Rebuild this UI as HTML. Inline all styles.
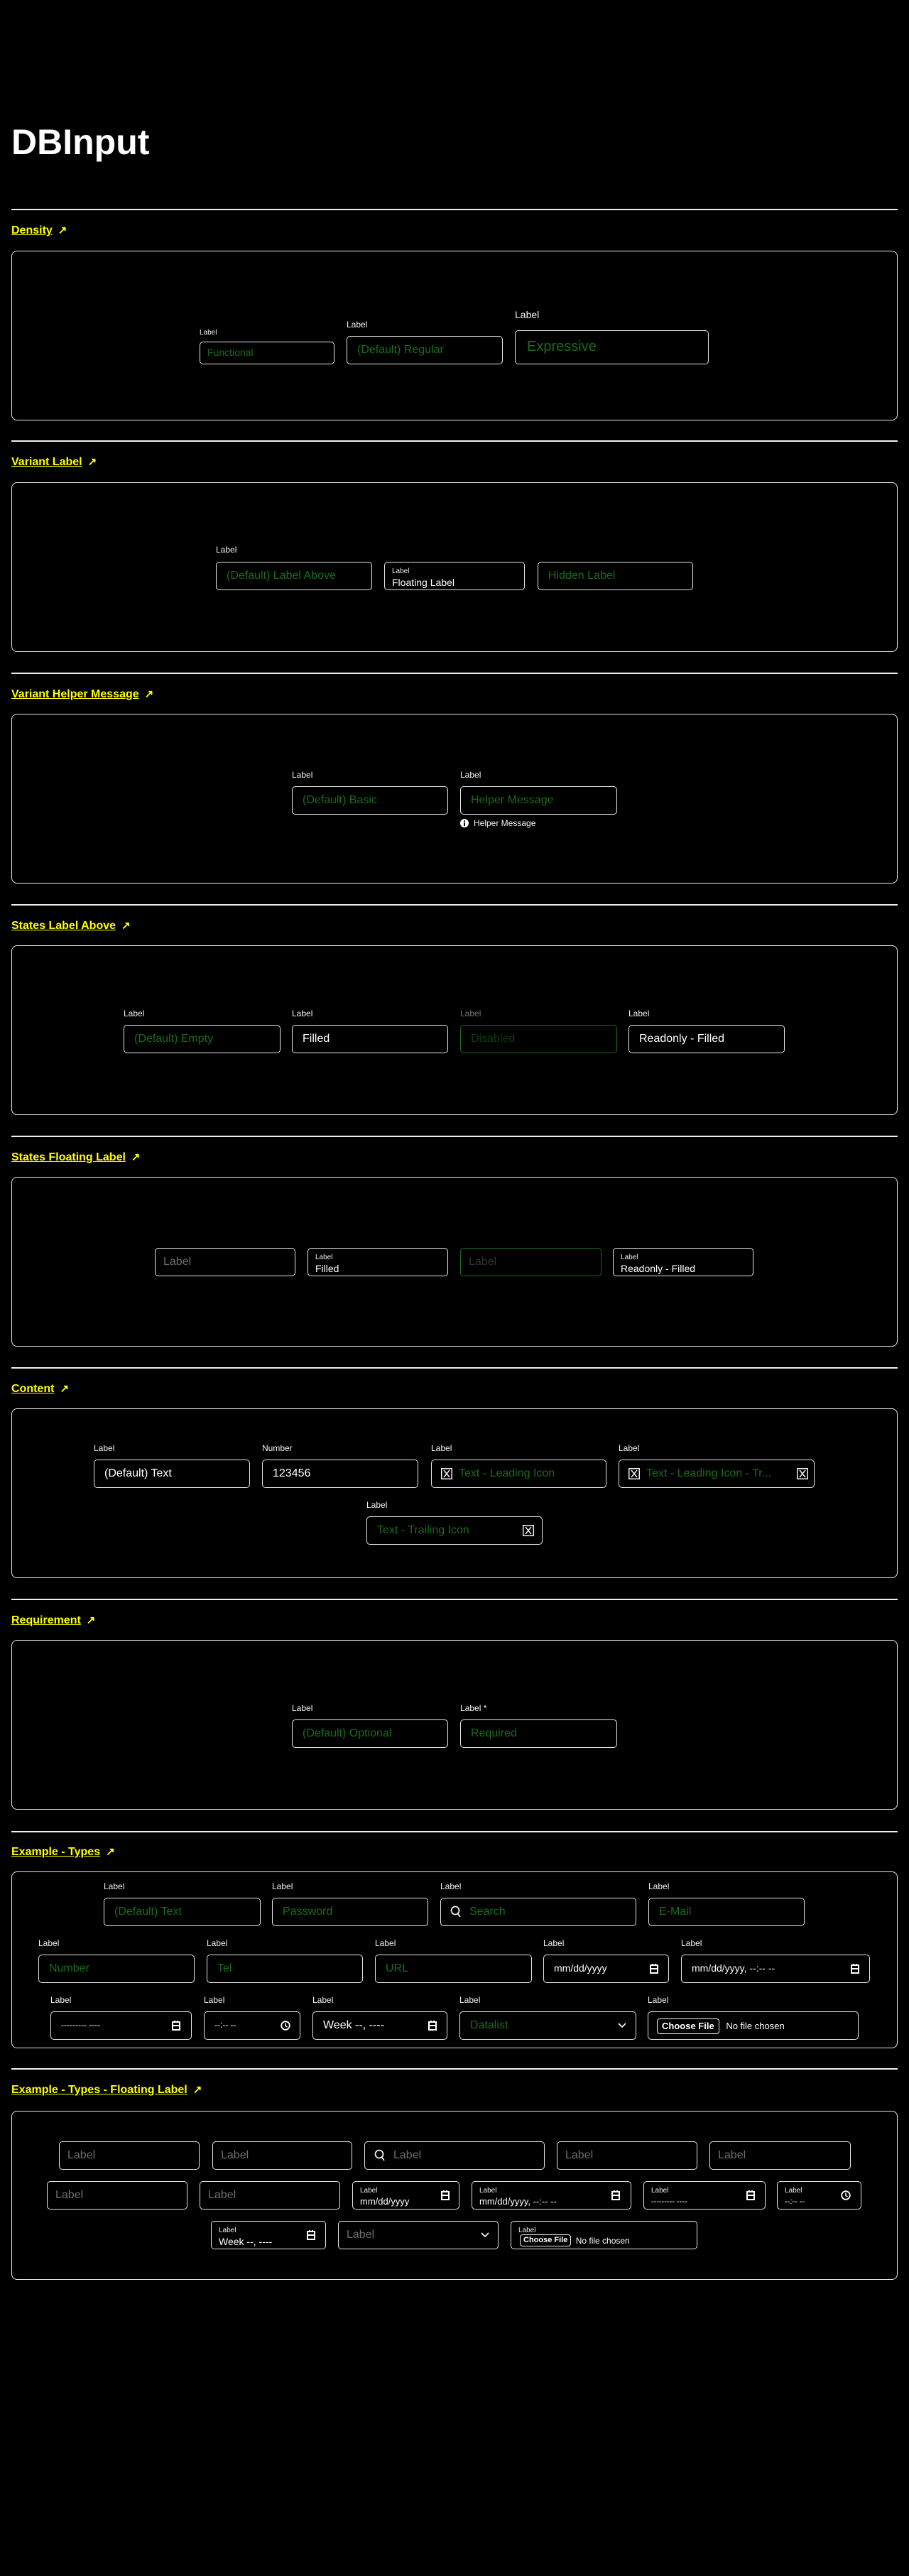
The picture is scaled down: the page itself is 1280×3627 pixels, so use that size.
<!DOCTYPE html>
<html><head><meta charset="utf-8">
<style>
*{margin:0;padding:0;box-sizing:border-box}
html,body{width:1280px;height:3627px;background:#000;overflow:hidden}
body{position:relative;font-family:"Liberation Sans",sans-serif;color:#fff}
.t{position:absolute;left:16px;top:170px;font-size:50px;font-weight:bold;line-height:60px;color:#fff}
.hr{position:absolute;left:16px;width:1248px;height:2px;background:#f0f0f0}
.h{position:absolute;left:16px;font-size:16px;font-weight:bold;line-height:20px;color:#ff0;white-space:nowrap}
.h u{text-decoration:underline}
.h span{display:inline-block;margin-left:8px;font-size:15px}
.box{position:absolute;left:16px;width:1248px;border:1.5px solid #e8e8e8;border-radius:8px}
.l{position:absolute;font-size:12px;line-height:14px;color:#f4f4f4;white-space:nowrap}
.i{position:absolute;height:40px;border:1.5px solid #e6e6e6;border-radius:5px;font-size:16px;line-height:37px;color:#1b6b1b;padding-left:14px;white-space:nowrap;overflow:hidden}
.w{color:#fff}
.g{color:#6e6e6e}
.d{border-color:#1b6b1b;color:#0f3d0f}
.fl{position:absolute;left:10px;top:7px;font-size:10px;line-height:11px;color:#eee}
.fv{position:absolute;left:10px;top:20px;font-size:14px;line-height:16px;color:#fff}
.ic{position:absolute;top:50%;transform:translateY(-50%)}
.btn{display:inline-block;border:1.5px solid #eee;border-radius:4px;font-size:13px;font-weight:bold;color:#fff;line-height:20px;padding:0 6px;vertical-align:middle}
</style></head><body>
<div class="t">DBInput</div>

<!-- Section 1 -->
<div class="hr" style="top:294px"></div>
<div class="h" style="top:315px"><u>Density</u><span>↗</span></div>
<div class="box" style="top:353px;height:239px"></div>
<div class="l" style="left:281px;top:462px;font-size:10px">Label</div>
<div class="i" style="left:281px;top:481px;width:190px;height:32px;font-size:14px;line-height:29px;padding-left:10px">Functional</div>
<div class="l" style="left:488px;top:450px">Label</div>
<div class="i" style="left:488px;top:473px;width:220px">(Default) Regular</div>
<div class="l" style="left:725px;top:435px;font-size:14px;line-height:16px">Label</div>
<div class="i" style="left:725px;top:465px;width:273px;height:48px;font-size:20px;line-height:44px;padding-left:16px">Expressive</div>

<!-- Section 2 -->
<div class="hr" style="top:620px"></div>
<div class="h" style="top:641px"><u>Variant Label</u><span>↗</span></div>
<div class="box" style="top:679px;height:239px"></div>
<div class="l" style="left:304px;top:767px">Label</div>
<div class="i" style="left:304px;top:791px;width:220px">(Default) Label Above</div>
<div class="i" style="left:541px;top:791px;width:198px"><div class="fl">Label</div><div class="fv">Floating Label</div></div>
<div class="i" style="left:757px;top:791px;width:219px">Hidden Label</div>

<!-- Section 3 -->
<div class="hr" style="top:947px"></div>
<div class="h" style="top:968px"><u>Variant Helper Message</u><span>↗</span></div>
<div class="box" style="top:1005px;height:239px"></div>
<div class="l" style="left:411px;top:1084px">Label</div>
<div class="i" style="left:411px;top:1107px;width:220px">(Default) Basic</div>
<div class="l" style="left:648px;top:1084px">Label</div>
<div class="i" style="left:648px;top:1107px;width:221px">Helper Message</div>
<svg style="position:absolute;left:648px;top:1153px" width="12" height="12" viewBox="0 0 12 12"><circle cx="6" cy="6" r="6" fill="#fff"/><rect x="5" y="5" width="2" height="5" fill="#000"/><rect x="5" y="2.2" width="2" height="1.8" fill="#000"/></svg>
<div class="l" style="left:667px;top:1152px">Helper Message</div>

<!-- Section 4 -->
<div class="hr" style="top:1273px"></div>
<div class="h" style="top:1294px"><u>States Label Above</u><span>↗</span></div>
<div class="box" style="top:1331px;height:239px"></div>
<div class="l" style="left:174px;top:1420px">Label</div>
<div class="i" style="left:174px;top:1443px;width:221px">(Default) Empty</div>
<div class="l" style="left:411px;top:1420px">Label</div>
<div class="i w" style="left:411px;top:1443px;width:220px">Filled</div>
<div class="l" style="left:648px;top:1420px;color:#777">Label</div>
<div class="i d" style="left:648px;top:1443px;width:221px">Disabled</div>
<div class="l" style="left:885px;top:1420px">Label</div>
<div class="i w" style="left:885px;top:1443px;width:220px">Readonly - Filled</div>

<!-- Section 5 -->
<div class="hr" style="top:1599px"></div>
<div class="h" style="top:1620px"><u>States Floating Label</u><span>↗</span></div>
<div class="box" style="top:1657px;height:239px"></div>
<div class="i g" style="left:218px;top:1757px;width:198px;padding-left:11px">Label</div>
<div class="i" style="left:433px;top:1757px;width:198px"><div class="fl">Label</div><div class="fv">Filled</div></div>
<div class="i d" style="left:648px;top:1757px;width:199px;color:#333;padding-left:11px">Label</div>
<div class="i" style="left:863px;top:1757px;width:198px"><div class="fl">Label</div><div class="fv">Readonly - Filled</div></div>

<!-- Section 6 -->
<div class="hr" style="top:1925px"></div>
<div class="h" style="top:1946px"><u>Content</u><span>↗</span></div>
<div class="box" style="top:1983px;height:239px"></div>
<div class="l" style="left:132px;top:2032px">Label</div>
<div class="i w" style="left:132px;top:2055px;width:220px">(Default) Text</div>
<div class="l" style="left:369px;top:2032px">Number</div>
<div class="i w" style="left:369px;top:2055px;width:220px">123456</div>
<div class="l" style="left:607px;top:2032px">Label</div>
<div class="i" style="left:607px;top:2055px;width:247px;padding-left:38px"><svg class="ic" style="left:13px" width="16" height="16" viewBox="0 0 16 16"><rect x="0.75" y="0.75" width="14.5" height="14.5" fill="none" stroke="#eee" stroke-width="1.5"/><path d="M4 3 L12 13 M12 3 L4 13" stroke="#eee" stroke-width="1.5"/></svg>Text - Leading Icon</div>
<div class="l" style="left:871px;top:2032px">Label</div>
<div class="i" style="left:871px;top:2055px;width:276px;padding-left:38px"><svg class="ic" style="left:13px" width="16" height="16" viewBox="0 0 16 16"><rect x="0.75" y="0.75" width="14.5" height="14.5" fill="none" stroke="#eee" stroke-width="1.5"/><path d="M4 3 L12 13 M12 3 L4 13" stroke="#eee" stroke-width="1.5"/></svg>Text - Leading Icon - Tr...<svg class="ic" style="left:250px" width="16" height="16" viewBox="0 0 16 16"><rect x="0.75" y="0.75" width="14.5" height="14.5" fill="none" stroke="#eee" stroke-width="1.5"/><path d="M4 3 L12 13 M12 3 L4 13" stroke="#eee" stroke-width="1.5"/></svg></div>
<div class="l" style="left:516px;top:2112px">Label</div>
<div class="i" style="left:516px;top:2135px;width:248px">Text - Trailing Icon<svg class="ic" style="left:219px" width="16" height="16" viewBox="0 0 16 16"><rect x="0.75" y="0.75" width="14.5" height="14.5" fill="none" stroke="#eee" stroke-width="1.5"/><path d="M4 3 L12 13 M12 3 L4 13" stroke="#eee" stroke-width="1.5"/></svg></div>

<!-- Section 7 -->
<div class="hr" style="top:2251px"></div>
<div class="h" style="top:2272px"><u>Requirement</u><span>↗</span></div>
<div class="box" style="top:2309px;height:239px"></div>
<div class="l" style="left:411px;top:2398px">Label</div>
<div class="i" style="left:411px;top:2421px;width:220px">(Default) Optional</div>
<div class="l" style="left:648px;top:2398px">Label *</div>
<div class="i" style="left:648px;top:2421px;width:221px">Required</div>

<!-- Section 8 -->
<div class="hr" style="top:2578px"></div>
<div class="h" style="top:2598px"><u>Example - Types</u><span>↗</span></div>
<div class="box" style="top:2635px;height:249px"></div>
<div class="l" style="left:146px;top:2649px">Label</div>
<div class="i" style="left:146px;top:2672px;width:221px">(Default) Text</div>
<div class="l" style="left:383px;top:2649px">Label</div>
<div class="i" style="left:383px;top:2672px;width:220px">Password</div>
<div class="l" style="left:620px;top:2649px">Label</div>
<div class="i" style="left:620px;top:2672px;width:276px;padding-left:40px"><svg class="ic" style="left:13px" width="16" height="18" viewBox="0 0 16 18"><circle cx="7" cy="7" r="5.5" fill="none" stroke="#eee" stroke-width="1.8"/><path d="M10.5 11 L14 16" stroke="#eee" stroke-width="1.8"/></svg>Search</div>
<div class="l" style="left:913px;top:2649px">Label</div>
<div class="i" style="left:913px;top:2672px;width:220px">E-Mail</div>

<div class="l" style="left:54px;top:2729px">Label</div>
<div class="i" style="left:54px;top:2752px;width:220px">Number</div>
<div class="l" style="left:291px;top:2729px">Label</div>
<div class="i" style="left:291px;top:2752px;width:220px">Tel</div>
<div class="l" style="left:528px;top:2729px">Label</div>
<div class="i" style="left:528px;top:2752px;width:221px">URL</div>
<div class="l" style="left:765px;top:2729px">Label</div>
<div class="i w" style="left:765px;top:2752px;width:177px;font-size:14px">mm/dd/yyyy<svg class="ic" style="left:149px" width="12" height="14" viewBox="0 0 12 14"><rect x="1" y="2" width="10" height="11" fill="none" stroke="#fff" stroke-width="2"/><rect x="1" y="6" width="10" height="2" fill="#fff"/><rect x="3" y="0" width="2" height="3" fill="#fff"/><rect x="7" y="0" width="2" height="3" fill="#fff"/></svg></div>
<div class="l" style="left:959px;top:2729px">Label</div>
<div class="i w" style="left:959px;top:2752px;width:266px;font-size:14px">mm/dd/yyyy, --:-- --<svg class="ic" style="left:238px" width="12" height="14" viewBox="0 0 12 14"><rect x="1" y="2" width="10" height="11" fill="none" stroke="#fff" stroke-width="2"/><rect x="1" y="6" width="10" height="2" fill="#fff"/><rect x="3" y="0" width="2" height="3" fill="#fff"/><rect x="7" y="0" width="2" height="3" fill="#fff"/></svg></div>

<div class="l" style="left:71px;top:2809px">Label</div>
<div class="i w" style="left:71px;top:2832px;width:199px;font-size:12px">--------- ----<svg class="ic" style="left:170px" width="12" height="14" viewBox="0 0 12 14"><rect x="1" y="2" width="10" height="11" fill="none" stroke="#fff" stroke-width="2"/><rect x="1" y="6" width="10" height="2" fill="#fff"/><rect x="3" y="0" width="2" height="3" fill="#fff"/><rect x="7" y="0" width="2" height="3" fill="#fff"/></svg></div>
<div class="l" style="left:287px;top:2809px">Label</div>
<div class="i w" style="left:287px;top:2832px;width:136px;font-size:12px">--:-- --<svg class="ic" style="left:107px" width="14" height="16" viewBox="0 0 14 16"><circle cx="7" cy="8" r="5.8" fill="none" stroke="#fff" stroke-width="1.8"/><path d="M7 4.5 V8.5 L9.5 10" fill="none" stroke="#fff" stroke-width="1.5"/></svg></div>
<div class="l" style="left:440px;top:2809px">Label</div>
<div class="i w" style="left:440px;top:2832px;width:190px">Week --, ----<svg class="ic" style="left:162px" width="12" height="14" viewBox="0 0 12 14"><rect x="1" y="2" width="10" height="11" fill="none" stroke="#fff" stroke-width="2"/><rect x="1" y="6" width="10" height="2" fill="#fff"/><rect x="3" y="0" width="2" height="3" fill="#fff"/><rect x="7" y="0" width="2" height="3" fill="#fff"/></svg></div>
<div class="l" style="left:647px;top:2809px">Label</div>
<div class="i" style="left:647px;top:2832px;width:249px">Datalist<svg class="ic" style="left:222px" width="12" height="8" viewBox="0 0 12 8"><path d="M1 1 L6 6 L11 1" fill="none" stroke="#fff" stroke-width="1.6"/></svg></div>
<div class="l" style="left:912px;top:2809px">Label</div>
<div class="i w" style="left:912px;top:2832px;width:297px;font-size:13px;padding-left:12px"><span class="btn">Choose File</span> <span style="vertical-align:middle;margin-left:6px">No file chosen</span></div>

<!-- Section 9 -->
<div class="hr" style="top:2912px"></div>
<div class="h" style="top:2933px"><u>Example - Types - Floating Label</u><span>↗</span></div>
<div class="box" style="top:2972px;height:238px"></div>
<div class="i g" style="left:83px;top:3015px;width:198px;padding-left:11px">Label</div>
<div class="i g" style="left:299px;top:3015px;width:197px;padding-left:11px">Label</div>
<div class="i g" style="left:513px;top:3015px;width:254px;padding-left:40px"><svg class="ic" style="left:13px" width="16" height="18" viewBox="0 0 16 18"><circle cx="7" cy="7" r="5.5" fill="none" stroke="#eee" stroke-width="1.8"/><path d="M10.5 11 L14 16" stroke="#eee" stroke-width="1.8"/></svg>Label</div>
<div class="i g" style="left:784px;top:3015px;width:198px;padding-left:11px">Label</div>
<div class="i g" style="left:999px;top:3015px;width:199px;padding-left:11px">Label</div>

<div class="i g" style="left:66px;top:3071px;width:198px;padding-left:11px">Label</div>
<div class="i g" style="left:281px;top:3071px;width:198px;padding-left:11px">Label</div>
<div class="i" style="left:496px;top:3071px;width:151px"><div class="fl">Label</div><div class="fv" style="font-size:13px">mm/dd/yyyy</div><svg class="ic" style="left:124px" width="12" height="14" viewBox="0 0 12 14"><rect x="1" y="2" width="10" height="11" fill="none" stroke="#fff" stroke-width="2"/><rect x="1" y="6" width="10" height="2" fill="#fff"/><rect x="3" y="0" width="2" height="3" fill="#fff"/><rect x="7" y="0" width="2" height="3" fill="#fff"/></svg></div>
<div class="i" style="left:664px;top:3071px;width:225px"><div class="fl">Label</div><div class="fv" style="font-size:13px">mm/dd/yyyy, --:-- --</div><svg class="ic" style="left:196px" width="12" height="14" viewBox="0 0 12 14"><rect x="1" y="2" width="10" height="11" fill="none" stroke="#fff" stroke-width="2"/><rect x="1" y="6" width="10" height="2" fill="#fff"/><rect x="3" y="0" width="2" height="3" fill="#fff"/><rect x="7" y="0" width="2" height="3" fill="#fff"/></svg></div>
<div class="i" style="left:906px;top:3071px;width:172px"><div class="fl">Label</div><div class="fv" style="font-size:11px">--------- ----</div><svg class="ic" style="left:144px" width="12" height="14" viewBox="0 0 12 14"><rect x="1" y="2" width="10" height="11" fill="none" stroke="#fff" stroke-width="2"/><rect x="1" y="6" width="10" height="2" fill="#fff"/><rect x="3" y="0" width="2" height="3" fill="#fff"/><rect x="7" y="0" width="2" height="3" fill="#fff"/></svg></div>
<div class="i" style="left:1094px;top:3071px;width:119px"><div class="fl">Label</div><div class="fv" style="font-size:11px">--:-- --</div><svg class="ic" style="left:89px" width="14" height="16" viewBox="0 0 14 16"><circle cx="7" cy="8" r="5.8" fill="none" stroke="#fff" stroke-width="1.8"/><path d="M7 4.5 V8.5 L9.5 10" fill="none" stroke="#fff" stroke-width="1.5"/></svg></div>

<div class="i" style="left:297px;top:3127px;width:162px"><div class="fl">Label</div><div class="fv">Week --, ----</div><svg class="ic" style="left:134px" width="12" height="14" viewBox="0 0 12 14"><rect x="1" y="2" width="10" height="11" fill="none" stroke="#fff" stroke-width="2"/><rect x="1" y="6" width="10" height="2" fill="#fff"/><rect x="3" y="0" width="2" height="3" fill="#fff"/><rect x="7" y="0" width="2" height="3" fill="#fff"/></svg></div>
<div class="i g" style="left:476px;top:3127px;width:226px;padding-left:11px">Label<svg class="ic" style="left:200px" width="12" height="8" viewBox="0 0 12 8"><path d="M1 1 L6 6 L11 1" fill="none" stroke="#fff" stroke-width="1.6"/></svg></div>
<div class="i" style="left:719px;top:3127px;width:263px"><div class="fl">Label</div><div class="fv" style="left:12px;top:18px;font-size:12px"><span class="btn" style="font-size:11px;line-height:15px;padding:0 4px">Choose File</span> <span style="vertical-align:middle;margin-left:3px">No file chosen</span></div></div>
</body></html>
